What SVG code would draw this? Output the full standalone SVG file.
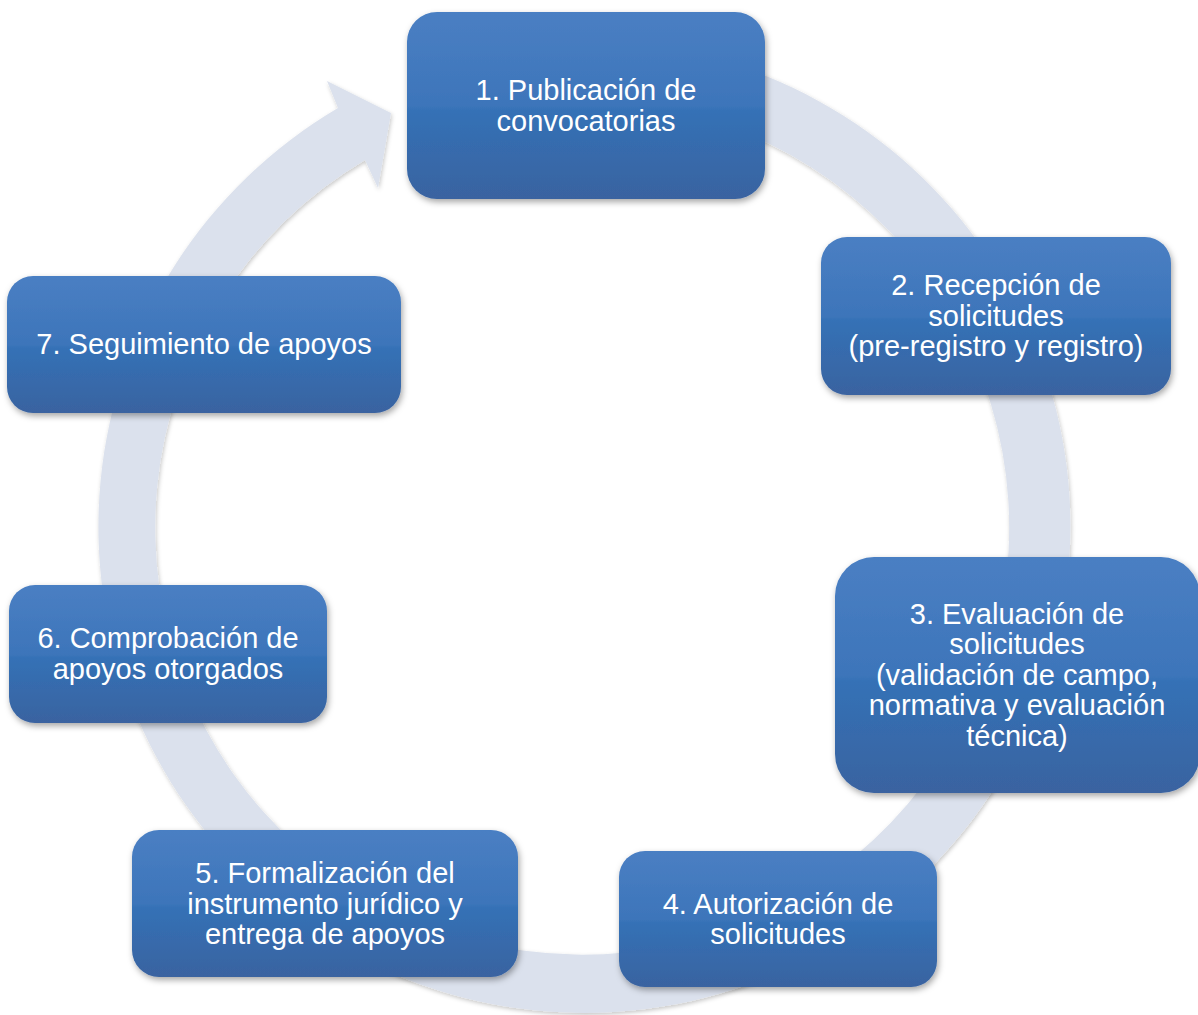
<svg xmlns="http://www.w3.org/2000/svg" width="1198" height="1015" viewBox="0 0 1198 1015">
  <defs>
    <linearGradient id="nodeGrad" x1="0" y1="0" x2="0" y2="1">
      <stop offset="0" stop-color="#4A7FC3"/>
      <stop offset="0.5" stop-color="#3D75BA"/>
      <stop offset="0.53" stop-color="#3471B6"/>
      <stop offset="1" stop-color="#3A63A0"/>
    </linearGradient>
    <filter id="shadow" x="-10%" y="-10%" width="125%" height="130%">
      <feDropShadow dx="1.5" dy="3" stdDeviation="3" flood-color="#000000" flood-opacity="0.35"/>
    </filter>
    <filter id="ringShadow" x="-5%" y="-5%" width="110%" height="110%">
      <feDropShadow dx="1" dy="2" stdDeviation="2" flood-color="#000000" flood-opacity="0.22"/>
    </filter>
  </defs>
  <style>
    .node rect { fill: url(#nodeGrad); filter: url(#shadow); }
    .node text { font-family: "Liberation Sans", Arial, sans-serif; font-size: 29px; fill: #FFFFFF; text-anchor: middle; }
    .ring { fill: #DBE1ED; filter: url(#ringShadow); }
  </style>
  <rect width="1198" height="1015" fill="#FFFFFF"/>

  <g id="connectors">
    <path class="ring" d="M 628.4 42.9 A 486 486 0 1 1 338 108 L 327 81 L 391 113 L 378 188 L 365 160 A 427 427 0 1 0 623.1 102.6 Z"/>
  </g>

  <g id="node1" class="node">
    <rect x="407" y="12" width="358" height="187" rx="30" ry="30"/>
    <text x="586" y="100">1. Publicación de</text>
    <text x="586" y="130.5">convocatorias</text>
  </g>

  <g id="node2" class="node">
    <rect x="821" y="237" width="350" height="158" rx="26" ry="26"/>
    <text x="996" y="295">2. Recepción de</text>
    <text x="996" y="325.5">solicitudes</text>
    <text x="996" y="356">(pre-registro y registro)</text>
  </g>

  <g id="node3" class="node">
    <rect x="835" y="557" width="365" height="236" rx="39" ry="39"/>
    <text x="1017" y="623.5">3. Evaluación de</text>
    <text x="1017" y="654">solicitudes</text>
    <text x="1017" y="684.5">(validación de campo,</text>
    <text x="1017" y="715">normativa y evaluación</text>
    <text x="1017" y="745.5">técnica)</text>
  </g>

  <g id="node4" class="node">
    <rect x="619" y="851" width="318" height="136" rx="26" ry="26"/>
    <text x="778" y="913.5">4. Autorización de</text>
    <text x="778" y="944">solicitudes</text>
  </g>

  <g id="node5" class="node">
    <rect x="132" y="830" width="386" height="147" rx="27" ry="27"/>
    <text x="325" y="883">5. Formalización del</text>
    <text x="325" y="913.5">instrumento jurídico y</text>
    <text x="325" y="944">entrega de apoyos</text>
  </g>

  <g id="node6" class="node">
    <rect x="9" y="585" width="318" height="138" rx="26" ry="26"/>
    <text x="168" y="648">6. Comprobación de</text>
    <text x="168" y="678.5">apoyos otorgados</text>
  </g>

  <g id="node7" class="node">
    <rect x="7" y="276" width="394" height="137" rx="26" ry="26"/>
    <text x="204" y="354">7. Seguimiento de apoyos</text>
  </g>
</svg>
